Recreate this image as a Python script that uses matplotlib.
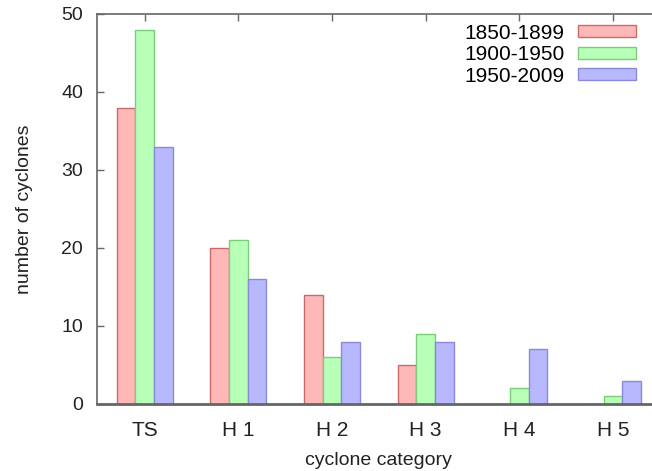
import numpy as np
import matplotlib.pyplot as plt

plt.rcParams.update({"font.family": ["Liberation Sans", "DejaVu Sans"], "font.size": 14})

categories = ['TS', 'H 1', 'H 2', 'H 3', 'H 4', 'H 5']
periods = ['1850-1899', '1900-1950', '1950-2009']
counts_1850 = [38, 20, 14, 5, 0, 0]
counts_1900 = [48, 21, 6, 9, 2, 1]
counts_1950 = [33, 16, 8, 8, 7, 3]

faces = ['#ffb8b8', '#b8ffb8', '#b8b8ff']
edges = ['#c86a6a', '#7ccc7c', '#8a8ad8']

fig = plt.figure(figsize=(6.52, 4.71), dpi=100)
# axes run past the right edge of the figure, as in the cropped original
ax = fig.add_axes([0.1488, 0.1423, 0.863, 0.828])

x = np.arange(len(categories))
w = 0.2
for i, vals in enumerate([counts_1850, counts_1900, counts_1950]):
    ax.bar(x + (i - 1) * w, vals, w, color=faces[i], edgecolor=edges[i],
           linewidth=1.0, label=periods[i], zorder=2)

ax.set_xlim(-0.51, 5.5)
ax.set_ylim(0, 50)
ax.set_xticks(x, categories)
ax.set_yticks([0, 10, 20, 30, 40, 50])
ax.tick_params(direction='in', top=True, right=True, length=5, width=1,
               color='#666666', labelcolor='#222222')
ax.tick_params(axis='x', pad=12, labelsize=15)
ax.tick_params(axis='y', pad=10)
for s in ax.spines.values():
    s.set_color('#666666')
    s.set_linewidth(1.2)
    s.set_zorder(3)
ax.spines['bottom'].set_linewidth(2)

ax.set_xlabel('cyclone category', color='#222222', labelpad=9)
ax.set_ylabel('number of cyclones', color='#222222', labelpad=20)

ax.legend(loc='upper right', bbox_to_anchor=(0.9755, 0.95), bbox_transform=fig.transFigure,
          frameon=False, markerfirst=False, handlelength=2.8, handleheight=0.5,
          handletextpad=0.65, labelspacing=0.12, borderpad=0, borderaxespad=0, fontsize=15)

fig.savefig('out.png', dpi=100)
